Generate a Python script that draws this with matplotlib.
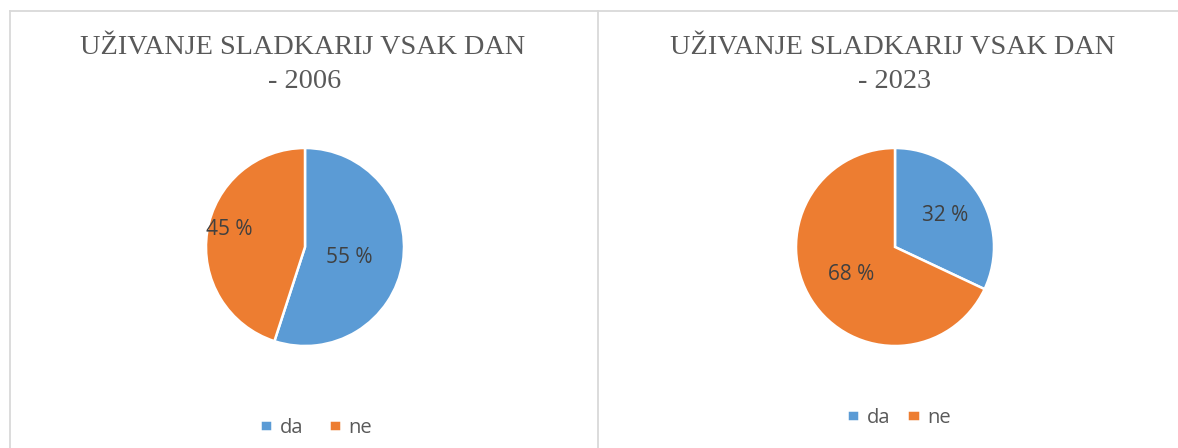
import matplotlib

matplotlib.use("Agg")
import matplotlib.pyplot as plt
import numpy as np
from matplotlib.lines import Line2D

W, H = 1178, 448

categories = ["da", "ne"]
years = ["2006", "2023"]
shares = {
    "2006": [55, 45],
    "2023": [32, 68],
}
title_text = "UŽIVANJE SLADKARIJ VSAK DAN"

colors = ["#5B9BD5", "#ED7D31"]
title_color = "#595959"
label_color = "#404040"
border_color = "#D9D9D9"

# panel layout in pixels: pie centre, legend position, label radius fractions, legend gap
panels = {
    "2006": dict(cx=305, cy=247, leg_x=316, leg_y=428, title_x=303,
                 label_r=[0.46, 0.79], label_da=[-4, -4], colsp=1.25),
    "2023": dict(cx=895, cy=247, leg_x=899, leg_y=418, title_x=893,
                 label_r=[0.60, 0.52], label_da=[0, 0], colsp=0.85),
}
R = 99

fig = plt.figure(figsize=(W / 100, H / 100), dpi=100)
fig.patch.set_facecolor("white")


def fx(x):
    return x / W


def fy(y):
    return 1 - y / H


# chart area borders
for xs, ys in [
    ([10, 10], [11.5, H]),
    ([597.5, 597.5], [11.5, H]),
    ([10, W], [11.5, 11.5]),
]:
    fig.add_artist(Line2D([fx(x) for x in xs], [fy(y) for y in ys],
                          color=border_color, linewidth=1.3))

for year in years:
    p = panels[year]
    ax = fig.add_axes([fx(p["cx"] - R), fy(p["cy"] + R), 2 * R / W, 2 * R / H])
    wedges, _ = ax.pie(
        shares[year],
        colors=colors,
        startangle=90,
        counterclock=False,
        radius=1,
        wedgeprops=dict(edgecolor="white", linewidth=1.8),
    )
    ax.set_xlim(-1, 1)
    ax.set_ylim(-1, 1)
    ax.set_aspect("equal")
    ax.axis("off")

    # percentage labels inside the slices
    for w, val, rf, da in zip(wedges, shares[year], p["label_r"], p["label_da"]):
        mid = np.deg2rad((w.theta1 + w.theta2) / 2 + da)
        ax.text(rf * np.cos(mid), rf * np.sin(mid), f"{val} %",
                ha="center", va="center", fontsize=15, family="Open Sans",
                color=label_color)

    fig.text(fx(p["title_x"]), fy(48), title_text, ha="center", va="center",
             fontsize=20.3, family="Liberation Serif", color=title_color)
    fig.text(fx(p["title_x"] + 2), fy(82), f"- {year}", ha="center", va="center",
             fontsize=20.3, family="Liberation Serif", color=title_color)

    fig.legend(wedges, categories, loc="center",
               bbox_to_anchor=(fx(p["leg_x"]), fy(p["leg_y"])),
               ncol=2, frameon=False, handlelength=0.6, handleheight=0.45,
               handletextpad=0.4, columnspacing=p["colsp"], borderpad=0,
               prop=dict(family="Open Sans", size=14.5), labelcolor=title_color)

fig.savefig("out.png", dpi=100)
